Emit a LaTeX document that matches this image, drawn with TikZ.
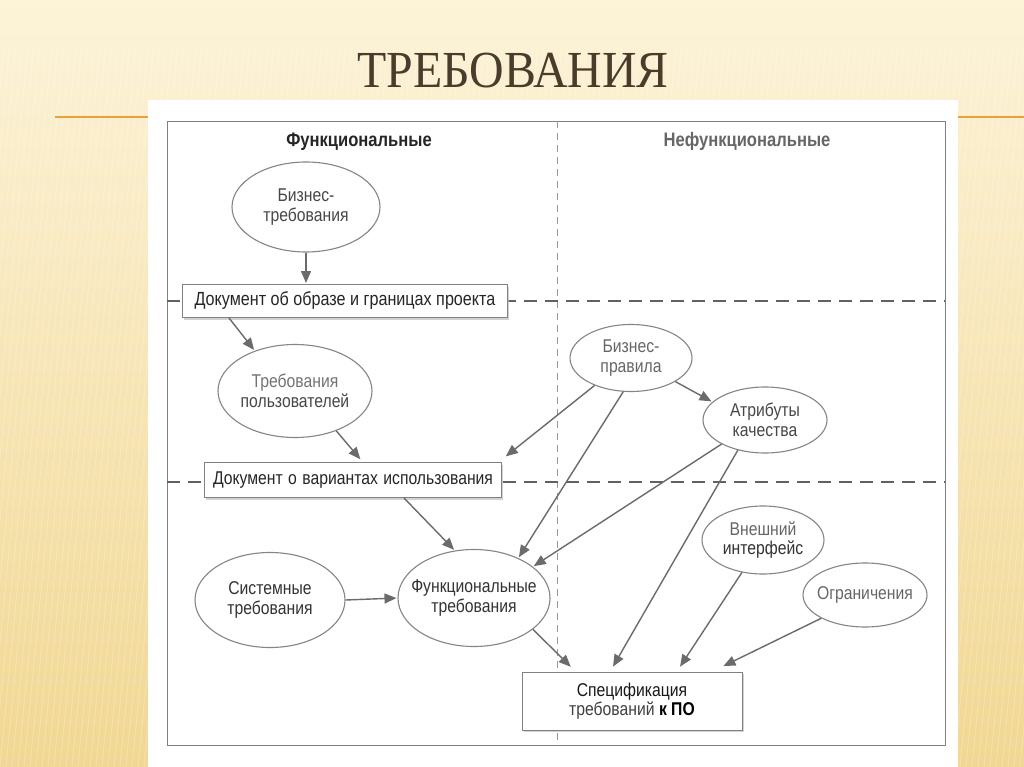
\documentclass[tikz,border=0pt]{standalone}
\usepackage{fontspec}
\setmainfont{Liberation Sans}
\newfontfamily\narrow[FakeStretch=0.85]{Liberation Sans}
\newfontfamily\titlefont[FakeStretch=0.92]{Liberation Serif}
\usetikzlibrary{shapes.geometric,arrows.meta,shadows}
\definecolor{bgtop}{HTML}{FCF3D8}
\definecolor{bgbot}{HTML}{F1D792}
\definecolor{accent}{HTML}{E9A23B}
\definecolor{titlecol}{HTML}{4B3B2B}
\tikzset{
  txt/.style={font=\narrow\fontsize{18.5}{19.5}\selectfont, text=black!72, align=center},
  ell/.style={ellipse, draw=black!48, line width=1.1pt, fill=white, inner xsep=-30pt, inner ysep=-12pt, txt},
  docbox/.style={rectangle, draw=black!50, line width=1pt, fill=white, inner sep=0pt, txt,
    drop shadow={shadow xshift=1.5pt, shadow yshift=-2pt, fill=black!25, opacity=0.7}},
  arr/.style={draw=black!58, line width=1.4pt, -{Triangle[length=12pt,width=10pt]}, shorten >=1pt},
  head/.style={font=\narrow\bfseries\fontsize{19.5}{21}\selectfont},
  hdash/.style={draw=black!62, line width=2.4pt, dash pattern=on 13pt off 8pt},
  vdash/.style={draw=black!40, line width=0.9pt, dash pattern=on 7pt off 5pt}
}
\begin{document}
\begin{tikzpicture}[x=1pt,y=-1pt]
\useasboundingbox (0,0) rectangle (1024,767);
% background
\shade[top color=bgtop, bottom color=bgbot] (0,0) rectangle (1024,767);
\foreach \i in {-300,-294,...,1024} {
  \draw[white, opacity=0.22, line width=1pt] (\i,767) -- (\i+70,45);
}
% panel
\fill[white] (148,100) rectangle (958,767);
% accent line
\draw[accent, line width=1.5pt] (55,117) -- (148,117);
\draw[accent, line width=1.5pt] (958,117) -- (1024,117);
% title
\node[font=\titlefont\fontsize{52}{55}\selectfont, text=titlecol] (title) at (513,71) {ТРЕБОВАНИЯ};
% frame and dividers
\draw[black!50, line width=0.9pt] (167,121) rectangle (945,745);
\draw[vdash] (557,121) -- (557,745);
\draw[hdash] (167,301) -- (945,301);
\draw[hdash] (167,482) -- (945,482);
% headers
\node[head, text=black!85] (hf) at (359,142) {Функциональные};
\node[head, text=black!60] (hn) at (747,141) {Нефункциональные};
% nodes
\node[ell, minimum width=148pt, minimum height=90pt] (bt) at (306,207) {Бизнес-\\требования};
\node[docbox, minimum width=325pt, minimum height=33pt, font=\narrow\fontsize{19}{21}\selectfont, text=black!85] (d1) at (345,301) {Документ об образе и границах проекта};
\node[ell, minimum width=154pt, minimum height=93pt] (ur) at (295,391) {{\color{black!55}Требования}\\пользователей};
\node[docbox, minimum width=297pt, minimum height=35pt, text=black!85] (d2) at (353,480) {\makebox[280pt][s]{Документ о вариантах использования}};
\node[ell, minimum width=122pt, minimum height=67pt, text=black!60] (bp) at (631,358) {Бизнес-\\правила};
\node[ell, minimum width=124pt, minimum height=66pt] (at) at (765,420) {Атрибуты\\качества};
\node[ell, minimum width=150pt, minimum height=95pt, text=black!80] (sr) at (270,600) {Системные\\требования};
\node[ell, minimum width=152pt, minimum height=97pt, text=black!80] (fr) at (474,598) {Функциональные\\требования};
\node[ell, minimum width=122pt, minimum height=68pt, text=black!80] (ei) at (763,540) {{\color{black!60}Внешний}\\интерфейс};
\node[ell, minimum width=124pt, minimum height=64pt, text=black!60] (og) at (865,595) {Ограничения};
\node[docbox, minimum width=220pt, minimum height=58pt, text=black!75] (sp) at (632,701) {{\color{black!90}Спецификация}\\требований \textbf{\color{black}к ПО}};
% connectors
\draw[arr] (bt.south) -- (bt.south |- d1.north);
\draw[arr] ([xshift=47pt]d1.south west) -- (ur.135);
\draw[arr] (ur.-44) -- ([xshift=157pt,yshift=2pt]d2.north west);
\draw[arr] ([xshift=200pt]d2.south west) -- (fr.112);
\draw[arr] (bp.217) -- ([xshift=3pt,yshift=5pt]d2.north east);
\draw[arr] (bp.257) -- (fr.42);
\draw[arr] (bp.-28) -- (at.161);
\draw[arr] (at.209) -- (fr.28);
\draw[arr] (at.228) -- ([xshift=91pt,yshift=4pt]sp.north west);
\draw[arr] (fr.-28) -- ([xshift=50pt,yshift=4pt]sp.north west);
\draw[arr] (ei.237) -- ([xshift=158pt,yshift=4pt]sp.north west);
\draw[arr] (og.208) -- ([xshift=201pt,yshift=5pt]sp.north west);
\draw[arr] (sr.east) -- (fr.west);
\end{tikzpicture}
\end{document}
